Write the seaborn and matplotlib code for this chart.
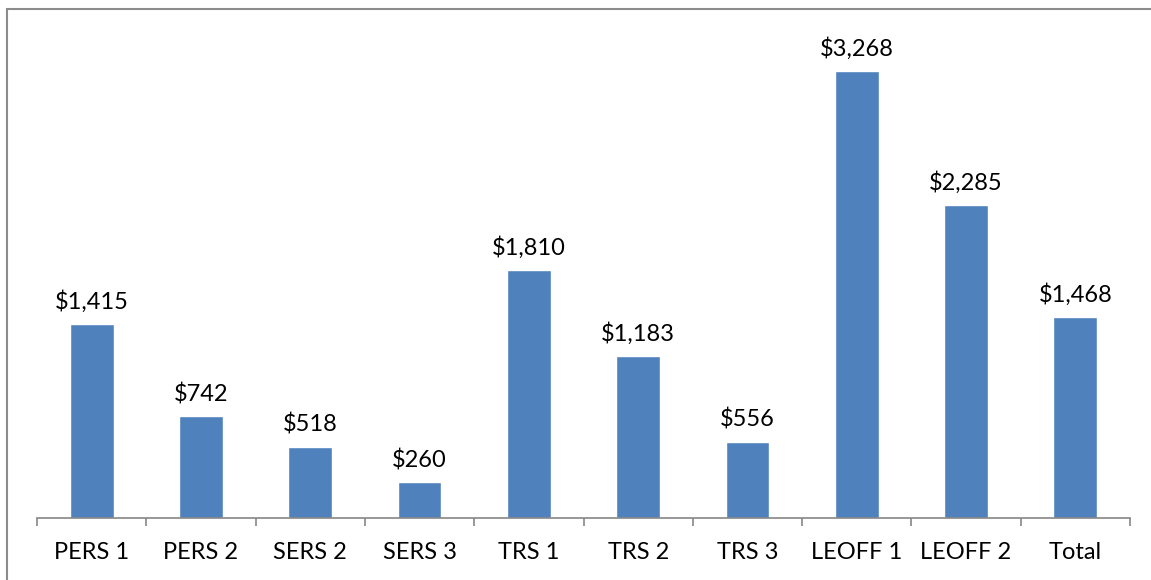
import matplotlib
matplotlib.use("Agg")
import matplotlib.pyplot as plt
import seaborn as sns
import pandas as pd
import numpy as np
from matplotlib.patches import Rectangle

categories = ["PERS 1", "PERS 2", "SERS 2", "SERS 3", "TRS 1", "TRS 2", "TRS 3", "LEOFF 1", "LEOFF 2", "Total"]
values = [1415, 742, 518, 260, 1810, 1183, 556, 3268, 2285, 1468]

sns.set_theme(style="white")
plt.rcParams['font.family'] = ['Lato', 'DejaVu Sans']

W, H = 1151, 580
fig = plt.figure(figsize=(W / 100, H / 100), dpi=100)
ax = fig.add_axes([37 / W, (H - 518) / H, (1130 - 37) / W, (518 - 39) / H])

df = pd.DataFrame({"cat": categories, "val": values})
sns.barplot(data=df, x="cat", y="val", color="#4F81BD", saturation=1, width=0.4, ax=ax)

ax.set_ylim(0, 3500)
ax.set_xlim(-0.5, len(categories) - 0.5)
ax.set_xlabel("")
ax.set_ylabel("")
ax.set_yticks([])

for s in ["top", "right", "left"]:
    ax.spines[s].set_visible(False)
ax.spines["bottom"].set_color("#868686")
ax.spines["bottom"].set_linewidth(1.2)

ax.set_xticks(np.arange(len(categories)))
ax.set_xticklabels(categories, fontsize=17, color="black")
ax.tick_params(axis="x", which="major", length=0, pad=17)
ax.set_xticks(np.arange(len(categories) + 1) - 0.5, minor=True)
ax.tick_params(axis="x", which="minor", length=5.5, width=1.2, color="#868686", direction="out", bottom=True)

labels = ["${:,}".format(v) for v in values]
ax.bar_label(ax.containers[0], labels=labels, padding=8, fontsize=17, color="black")

fig.patches.append(Rectangle((7 / W, -0.1), 1.2, (H - 9) / H + 0.1, transform=fig.transFigure,
                             fill=False, edgecolor="#8c8c8c", linewidth=1.5))

fig.savefig("out.png", dpi=100)
